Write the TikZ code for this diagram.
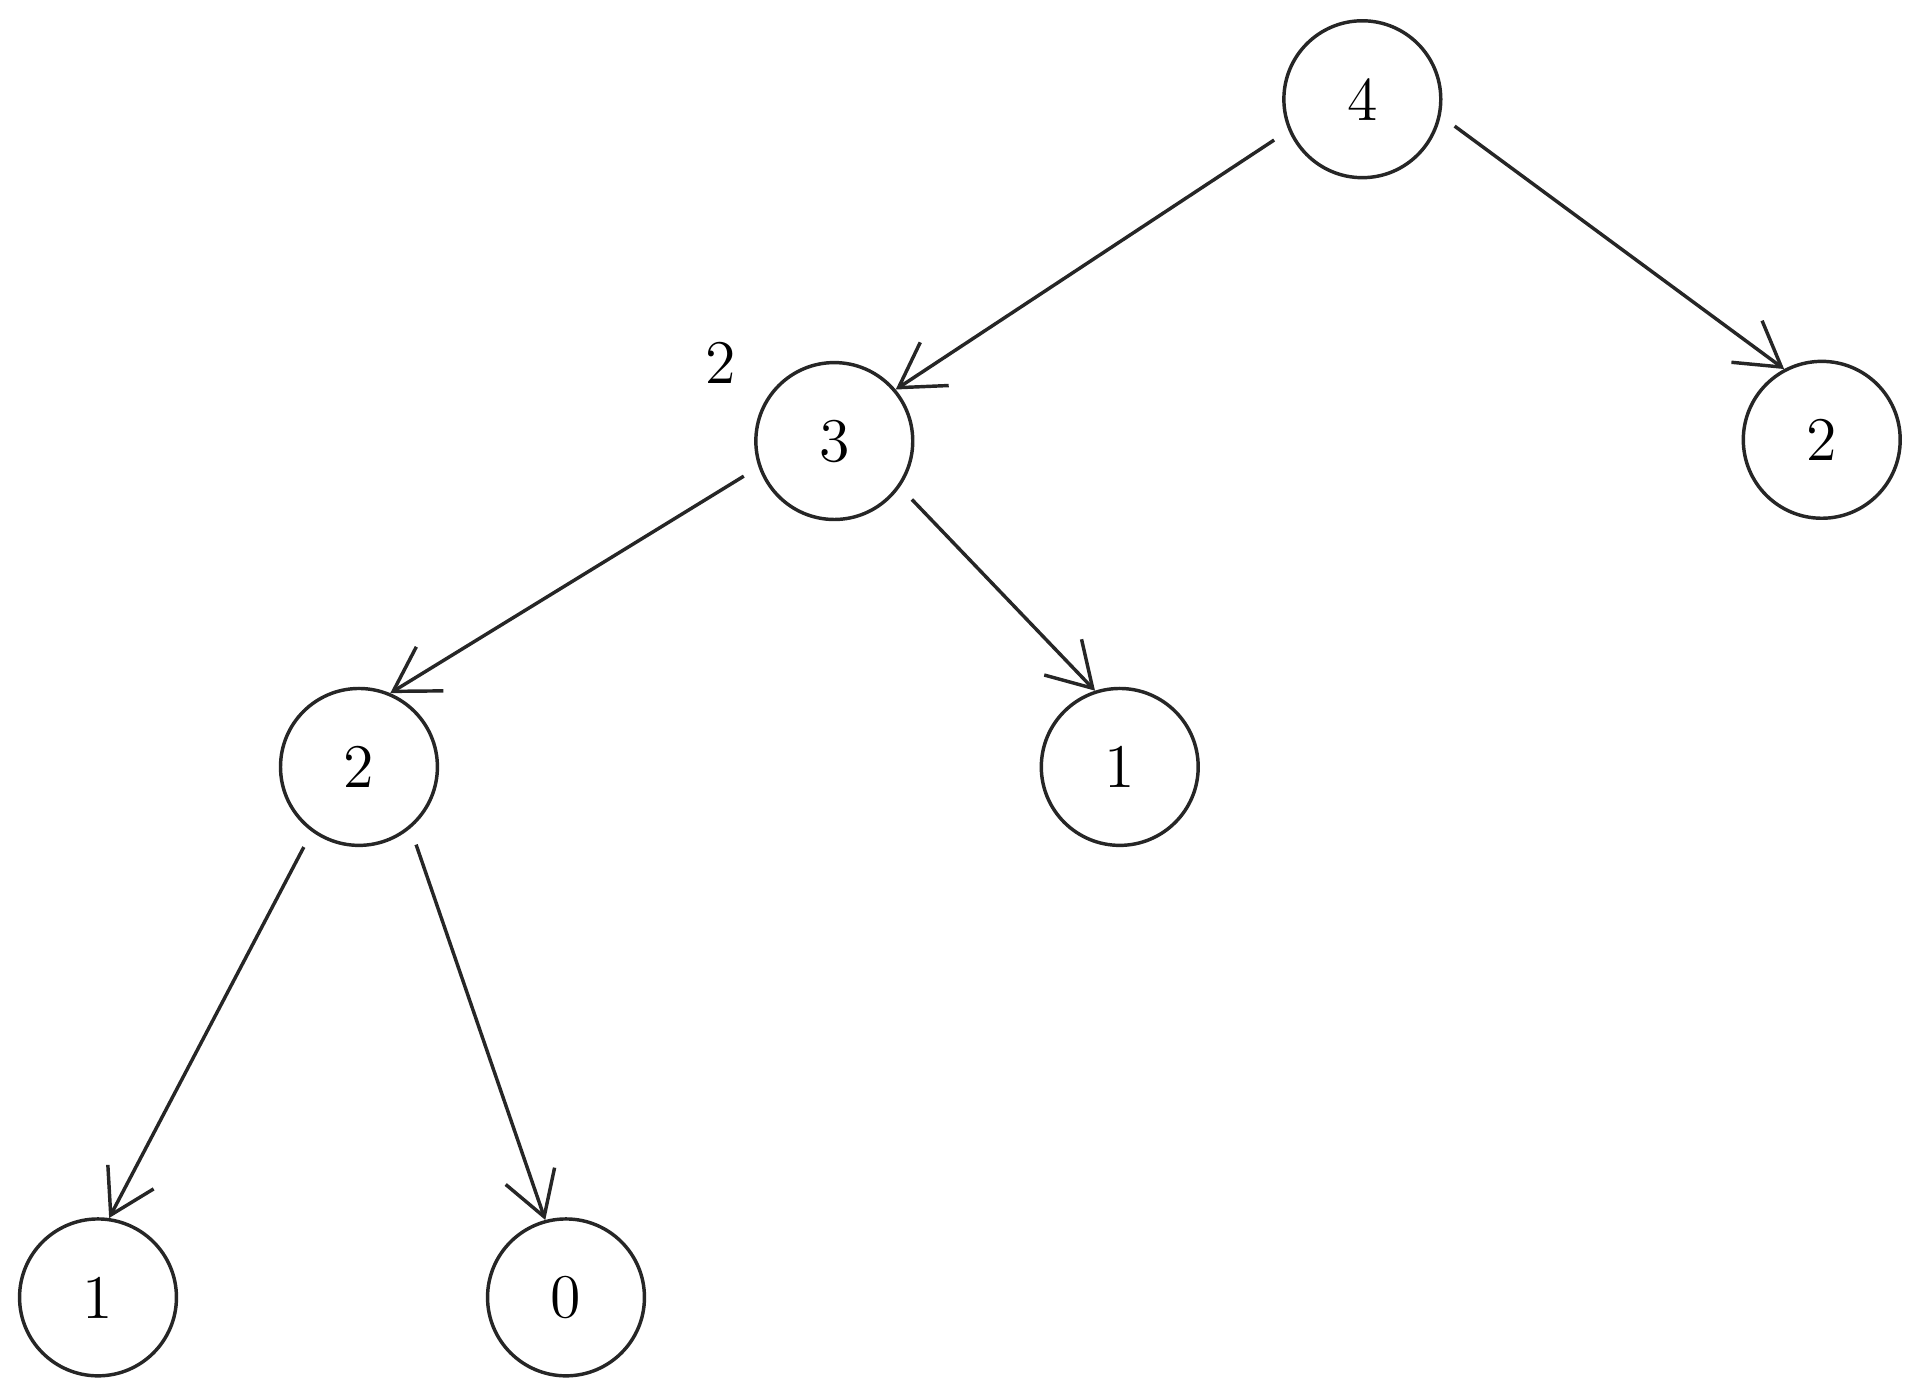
\documentclass[tikz,border=0pt]{standalone}
\usepackage{tikz}
\usetikzlibrary{arrows.meta}
\tikzset{
    treenode/.style={
        circle,
        draw=black!85,
        thick,
        minimum size=1.28cm,
        inner sep=0pt,
        font=\Large
    },
    edge/.style={
        draw=black!85,
        thick,
        shorten <=4pt,
        -{Straight Barb[length=10pt,width=12pt]}
    },
    label/.style={
        font=\Large
    }
}
\begin{document}
\begin{tikzpicture}[x=0.01cm, y=-0.01cm]
\useasboundingbox (0,0) rectangle (1568,1140);

% Nodes
\node[treenode] (root) at (1112,81) {4};
\node[treenode] (left) at (681,360) {3};
\node[treenode] (right) at (1487,359) {2};
\node[treenode] (leftleft) at (293,626) {2};
\node[treenode] (leftright) at (914,626) {1};
\node[treenode] (llleft) at (80,1059) {1};
\node[treenode] (llright) at (462,1059) {0};

% Annotation
\node[label] (height) at (588,296) {2};

% Connections
\draw[edge] (root.203) -- (left.40);
\draw[edge] (root.348) -- (right.118);
\draw[edge] (left.199) -- (leftleft.67);
\draw[edge] (left.325) -- (leftright.108);
\draw[edge] (leftleft.234) -- (llleft.82);
\draw[edge] (leftleft.310) -- (llright.105);

\end{tikzpicture}
\end{document}
